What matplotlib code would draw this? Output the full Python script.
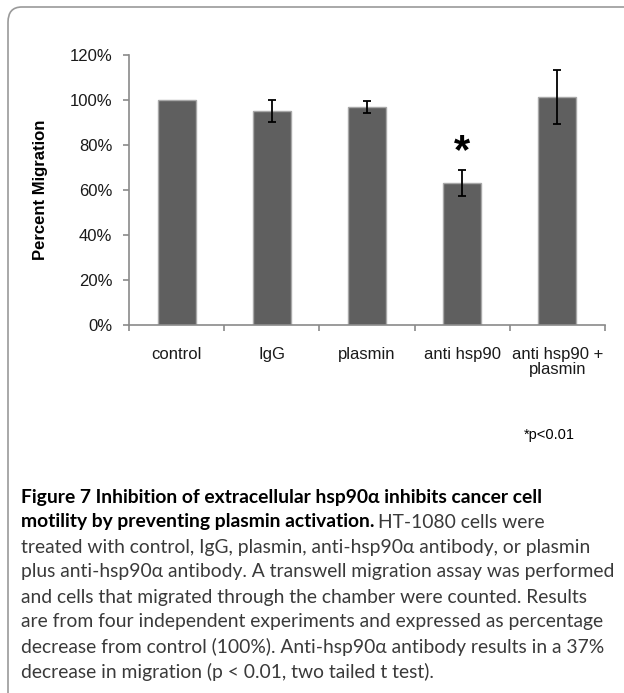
import numpy as np
import matplotlib
matplotlib.use("Agg")
import matplotlib.pyplot as plt
from matplotlib.patches import FancyBboxPatch

# data
categories = ["control", "IgG", "plasmin", "anti hsp90", "anti hsp90 +\nplasmin"]
values = [100, 95, 97, 63, 101.5]
errors = [0, 4.8, 2.7, 5.8, 12]
yticks = [0, 20, 40, 60, 80, 100, 120]

caption = [
    [("Figure 7 Inhibition of extracellular hsp90\u03b1 inhibits cancer cell", "bold")],
    [("motility by preventing plasmin activation.", "bold"), ("HT-1080 cells were", "normal")],
    [("treated with control, IgG, plasmin, anti-hsp90\u03b1 antibody, or plasmin", "normal")],
    [("plus anti-hsp90\u03b1 antibody. A transwell migration assay was performed", "normal")],
    [("and cells that migrated through the chamber were counted. Results", "normal")],
    [("are from four independent experiments and expressed as percentage", "normal")],
    [("decrease from control (100%). Anti-hsp90\u03b1 antibody results in a 37%", "normal")],
    [("decrease in migration (p < 0.01, two tailed t test).", "normal")],
]

W, H = 624, 693
plt.rcParams['font.family'] = ['Liberation Sans', 'DejaVu Sans']
fig = plt.figure(figsize=(W / 100, H / 100), dpi=100)

# rounded frame (only left and top edges visible)
frame = FancyBboxPatch((8 / W, -0.2), 1.3, 1.2 - 7 / H,
                       boxstyle="round,pad=0,rounding_size=0.022",
                       transform=fig.transFigure, fill=False,
                       edgecolor="#9a9a9a", linewidth=1.2)
fig.patches.append(frame)

# chart axes in pixel layout
x0, x1, ytop, ybot = 129, 605, 55, 325
ax = fig.add_axes([x0 / W, 1 - ybot / H, (x1 - x0) / W, (ybot - ytop) / H])
x = np.arange(len(categories))
ax.bar(x, values, width=0.4, color="#5f5f5f", edgecolor="#a8a8a8", linewidth=1)
ax.errorbar(x[1:], values[1:], yerr=errors[1:], fmt="none", ecolor="black",
            elinewidth=1.3, capsize=3.2, capthick=1.3)
ax.text(3, 72, "*", ha="center", va="baseline", fontsize=30, fontweight="bold")

ax.set_xlim(-0.5, len(categories) - 0.5)
ax.set_ylim(0, 120)
ax.set_yticks(yticks)
ax.set_yticklabels([f"{v}%" for v in yticks], fontsize=12, color="#1a1a1a")
ax.set_xticks(x)
ax.set_xticklabels(categories, fontsize=12, color="#1a1a1a", linespacing=1.0)
ax.set_xticks(np.arange(len(categories) + 1) - 0.5, minor=True)
ax.tick_params(axis="x", which="major", length=0, pad=16)
ax.tick_params(axis="x", which="minor", length=4, color="#8a8a8a", width=1.2)
ax.tick_params(axis="y", length=4, color="#8a8a8a", width=1.2, pad=8)
for s in ["top", "right"]:
    ax.spines[s].set_visible(False)
for s in ["left", "bottom"]:
    ax.spines[s].set_color("#8a8a8a")
    ax.spines[s].set_linewidth(1.2)
ax.set_ylabel("Percent Migration", fontsize=12, fontweight="bold")
ax.yaxis.set_label_coords((48 - x0) / (x1 - x0), 0.5)

fig.text(575 / W, 1 - 435 / H, "*p<0.01", ha="right", va="center", fontsize=10.5)

# caption
cap_font = ['Lato', 'DejaVu Sans']
renderer = fig.canvas.get_renderer()
probe = fig.text(0, 0, caption[3][0][0], family=cap_font, fontsize=12)
w = probe.get_window_extent(renderer).width
size = 12 * (613 - 21) / w
probe.remove()

for i, parts in enumerate(caption):
    yc = 1 - (497 + 25 * i) / H
    prev = None
    for txt, weight in parts:
        color = "black" if weight == "bold" else "#3a3a3a"
        if prev is None:
            prev = fig.text(21 / W, yc, txt, family=cap_font, fontsize=size,
                            fontweight=weight, color=color, va="center")
        else:
            prev = fig.text(0, 0, txt, family=cap_font, fontsize=size,
                            fontweight=weight, color=color, va="center")
            bb = fig.texts[-2].get_window_extent(renderer)
            prev.set_position(((bb.x1 + 4) / W, yc))

fig.savefig("out.png", dpi=100)
